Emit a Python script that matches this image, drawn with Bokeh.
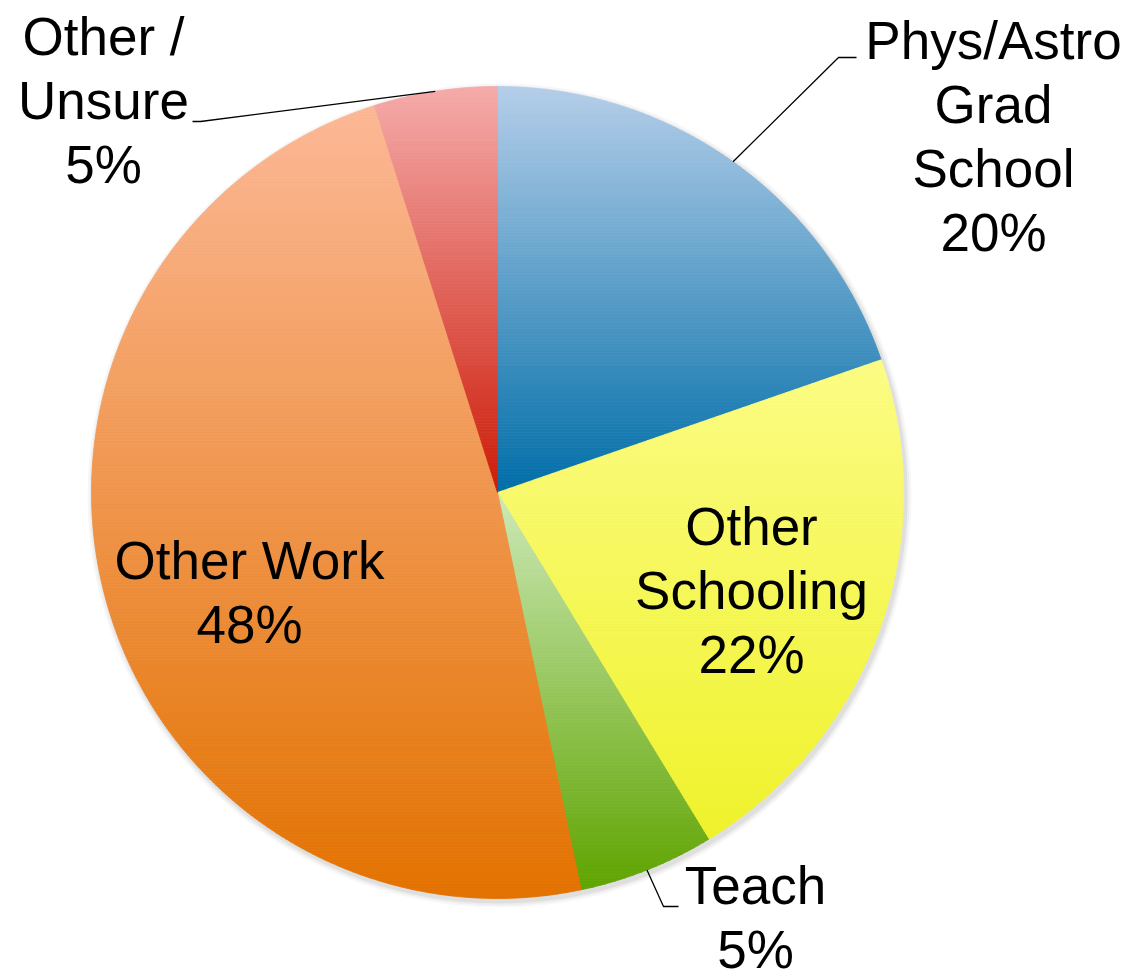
import math
from bokeh.plotting import figure
from bokeh.models import Range1d, ColumnDataSource
from bokeh.core.properties import value
from bokeh.embed import file_html
from bokeh.resources import INLINE

# ---- data ----
categories = ["Phys/Astro\nGrad\nSchool", "Other\nSchooling", "Teach", "Other Work", "Other /\nUnsure"]
values = [19.7, 21.6, 5.4, 48.4, 4.9]
top_colors = ["#b5cee9", "#fcfc84", "#cde9b8", "#fcb896", "#f5abab"]
bottom_colors = ["#006ea8", "#eff22a", "#5fa400", "#e37200", "#cc1c08"]

# ---- layout (page pixels, y downward) ----
W, H = 1127, 976
CX, CY, R = 497, 492, 406
label_pos = [(993, 136), (751, 590), (755, 917), (249, 592), (103, 100)]
leader = {0: [(838, 57), (856, 57)], 2: [(663, 906), (678, 906)], 4: [(200, 121), (192, 121)]}


def Y(py):
    return H - py


p = figure(width=W, height=H, output_backend="svg", toolbar_location=None,
           x_range=Range1d(0, W), y_range=Range1d(0, H),
           x_axis_type=None, y_axis_type=None, min_border=0)
p.outline_line_color = None
p.grid.visible = False
p.background_fill_color = "white"
p.border_fill_color = "white"

cx, cy = CX, Y(CY)

# soft shadow
for k, a in [(6, 0.03), (4, 0.04), (2, 0.06)]:
    p.circle(x=[cx + 2], y=[cy - 3], radius=R + k, fill_color="#000000", fill_alpha=a, line_color=None)


def hex2rgb(h):
    h = h.lstrip("#")
    return [int(h[i:i + 2], 16) for i in (0, 2, 4)]


def mix(c1, c2, t):
    a, b = hex2rgb(c1), hex2rgb(c2)
    return "#%02x%02x%02x" % tuple(int(round(a[i] + (b[i] - a[i]) * t)) for i in range(3))


def clip(poly, y0, above):
    out = []
    n = len(poly)
    for i in range(n):
        P, Q = poly[i], poly[(i + 1) % n]
        inP = P[1] >= y0 if above else P[1] <= y0
        inQ = Q[1] >= y0 if above else Q[1] <= y0
        if inP:
            out.append(P)
        if inP != inQ:
            t = (y0 - P[1]) / (Q[1] - P[1])
            out.append((P[0] + t * (Q[0] - P[0]), y0))
    return out


total = sum(values)
xs, ys, cols = [], [], []
cum = 0.0
mids = []
for i, v in enumerate(values):
    f0, f1 = cum / total, (cum + v) / total
    cum += v
    mids.append((f0 + f1) / 2)
    a0 = math.pi / 2 - 2 * math.pi * f0
    a1 = math.pi / 2 - 2 * math.pi * f1
    n = max(8, int(abs(a1 - a0) / (2 * math.pi) * 720))
    poly = [(cx, cy)] + [(cx + R * math.cos(a0 + (a1 - a0) * k / n), cy + R * math.sin(a0 + (a1 - a0) * k / n)) for k in range(n + 1)]
    ymin = min(q[1] for q in poly)
    ymax = max(q[1] for q in poly)
    nb = int(math.ceil((ymax - ymin) / 3.0))
    hb = (ymax - ymin) / nb
    for j in range(nb):
        ya = ymin + j * hb
        yb = ya + hb
        part = clip(clip(poly, ya, True), yb, False)
        if len(part) < 3:
            continue
        t = 1 - ((ya + yb) / 2 - ymin) / (ymax - ymin)
        c = mix(top_colors[i], bottom_colors[i], t)
        xs.append([q[0] for q in part])
        ys.append([q[1] for q in part])
        cols.append(c)

p.patches(xs=xs, ys=ys, fill_color=cols, line_color=cols, line_width=0.8)

# leader lines
for i, pts in leader.items():
    ang = math.pi / 2 - 2 * math.pi * mids[i]
    sx, sy = cx + R * math.cos(ang), cy + R * math.sin(ang)
    lx = [sx] + [q[0] for q in pts]
    ly = [sy] + [Y(q[1]) for q in pts]
    p.line(lx, ly, line_color="black", line_width=1.3)

# labels
texts = [c + "\n" + "%d%%" % round(v) for c, v in zip(categories, values)]
src = ColumnDataSource(dict(x=[q[0] for q in label_pos], y=[Y(q[1]) for q in label_pos], t=texts))
p.text(x="x", y="y", text="t", source=src, text_font=value("Liberation Sans"),
       text_font_size="53px", text_align="center", text_baseline="middle",
       text_line_height=1.09, text_color="black")

open("out.html", "w").write(file_html(p, INLINE))
